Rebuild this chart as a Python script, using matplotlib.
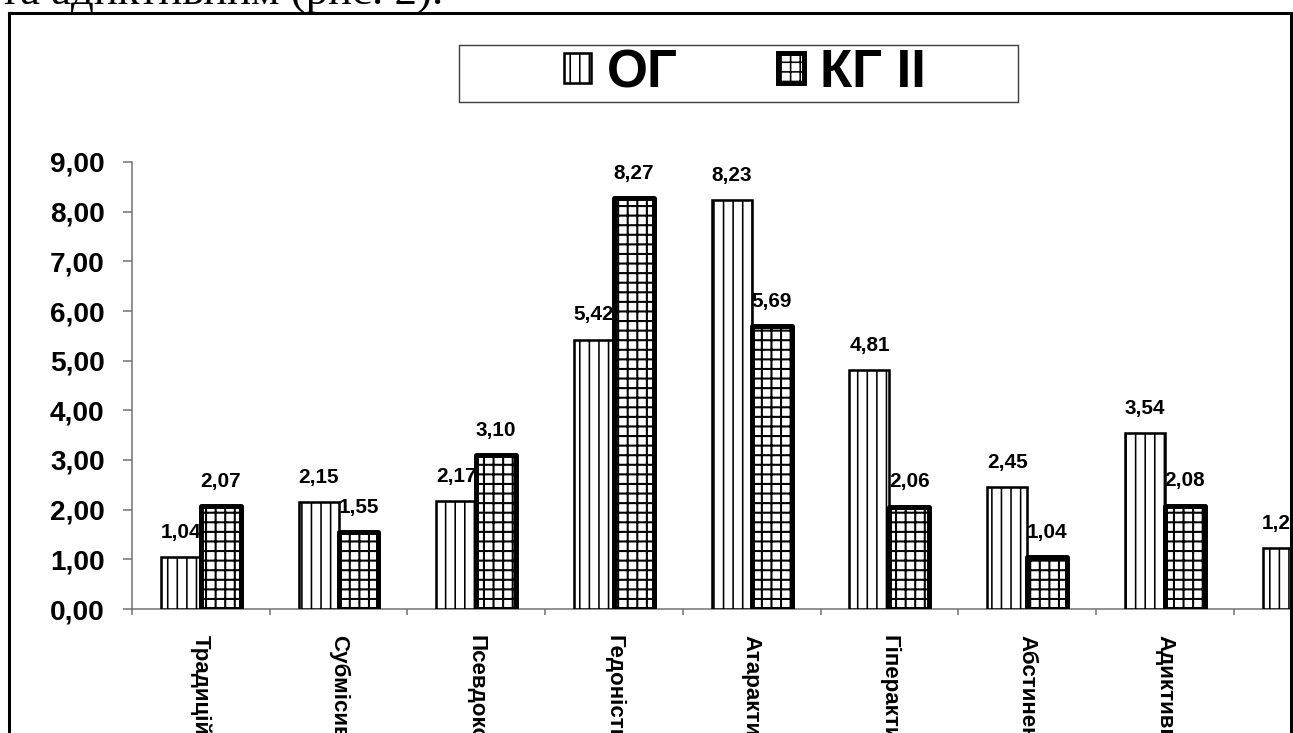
import numpy as np
import matplotlib
matplotlib.use("Agg")
import matplotlib.pyplot as plt
from matplotlib.lines import Line2D
from matplotlib.patches import Rectangle

# ---------------- data ----------------
categories = ["Традиційний", "Субмісивний", "Псевдокомпенсаторний", "Гедоністичний",
              "Атарактичний", "Гіперактивний", "Абстинентний", "Адиктивний", "Інший"]
og_values = [1.04, 2.15, 2.17, 5.42, 8.23, 4.81, 2.45, 3.54, 1.22]
kg_values = [2.07, 1.55, 3.10, 8.27, 5.69, 2.06, 1.04, 2.08, np.nan]  # last one is outside the picture
series_names = ["ОГ", "КГ II"]
y_ticks = [0, 1, 2, 3, 4, 5, 6, 7, 8, 9]
caption = "та адиктивним (рис. 2)."


def fmt(v):
    return f"{v:.2f}".replace(".", ",")


# ---------------- figure ----------------
DPI = 115
W, H = 1293, 733
plt.rcParams["font.family"] = ["Liberation Sans", "DejaVu Sans"]
plt.rcParams["hatch.linewidth"] = 1.0
plt.rcParams["hatch.color"] = "black"

fig = plt.figure(figsize=(W / DPI, H / DPI), dpi=DPI)
fig.patch.set_facecolor("white")

ncat = len(categories)
cat_px = 137.7
ax_left, ax_bottom, ax_top = 132, 609, 162
ax = fig.add_axes([ax_left / W, (H - ax_bottom) / H, ncat * cat_px / W, (ax_bottom - ax_top) / H])
ax.set_xlim(-0.5, ncat - 0.5)
ax.set_ylim(0, 9)
ax.patch.set_alpha(0)

x = np.arange(ncat)
bw = 0.29
og = ax.bar(x - bw / 2, og_values, bw, facecolor="white", edgecolor="black",
            linewidth=1.6, hatch="||", zorder=3)
kg = ax.bar(x + bw / 2, kg_values, bw, facecolor="white", edgecolor="black",
            linewidth=3.1, hatch="++", zorder=4)
for p in kg:
    p.set_joinstyle("round")
    if hasattr(p, "set_hatch_linewidth"):
        p.set_hatch_linewidth(1.3)

for xs, vals in ((x - bw / 2, og_values), (x + bw / 2, kg_values)):
    for xi, v in zip(xs, vals):
        if np.isnan(v):
            continue
        ax.annotate(fmt(v), (xi, v), xytext=(0, 15.6), textcoords="offset points",
                    ha="center", va="center", fontsize=13, fontweight="bold",
                    zorder=2, annotation_clip=False)

for s in ("top", "right"):
    ax.spines[s].set_visible(False)
for s in ("left", "bottom"):
    ax.spines[s].set_color("#707070")
    ax.spines[s].set_linewidth(0.95)

ax.set_yticks(y_ticks, labels=[fmt(v) for v in y_ticks], fontsize=17.5, fontweight="bold")
ax.tick_params(axis="y", direction="out", length=5.6, width=0.95, color="#707070", pad=11.5)

ax.set_xticks(np.arange(ncat + 1) - 0.5, labels=[""] * (ncat + 1))
ax.tick_params(axis="x", which="major", direction="out", length=3.8, width=0.95, color="#707070")
ax.set_xticks(x, labels=categories, minor=True, rotation=-90, fontsize=14, fontweight="bold")
ax.tick_params(axis="x", which="minor", length=0, pad=16.3)

# legend
leg = fig.legend([og, kg], series_names, loc="center", bbox_to_anchor=(745 / W, 1 - 73 / H),
                 ncol=2, frameon=False, prop={"family": "Liberation Sans", "weight": "bold", "size": 33},
                 handlelength=0.5, handleheight=0.5, handletextpad=0.3, columnspacing=1.9,
                 borderaxespad=0, borderpad=0)
fig.add_artist(Rectangle((459 / W, 1 - 102 / H), (1018 - 459) / W, (102 - 45) / H,
                         transform=fig.transFigure, fill=False, edgecolor="#404040", lw=0.9, zorder=5))

# white cover outside the frame on the right, then the frame
fig.add_artist(Rectangle((1290.5 / W, 0), 0.05, 1, transform=fig.transFigure,
                         facecolor="white", edgecolor="none", zorder=20))
lw_frame = 1.9
fl = 8.5 / W
fr = 1290.5 / W
ft = 1 - 12.5 / H
for xs_, ys_ in (([fl, fl], [0, ft]), ([fl, fr], [ft, ft]), ([fr, fr], [0, ft])):
    fig.add_artist(Line2D(xs_, ys_, transform=fig.transFigure, color="black",
                          lw=lw_frame, solid_capstyle="projecting", zorder=21))

# caption fragment at the top (cut off)
cap = fig.text(0, 1 - 5 / H, caption, family=["Liberation Serif", "DejaVu Serif"], fontsize=24,
               ha="left", va="baseline", zorder=22)
fig.canvas.draw()
wpx = cap.get_window_extent(fig.canvas.get_renderer()).width
cap.set_fontsize(24 * 445 / wpx)

fig.savefig("out.png", dpi=DPI, facecolor="white")
